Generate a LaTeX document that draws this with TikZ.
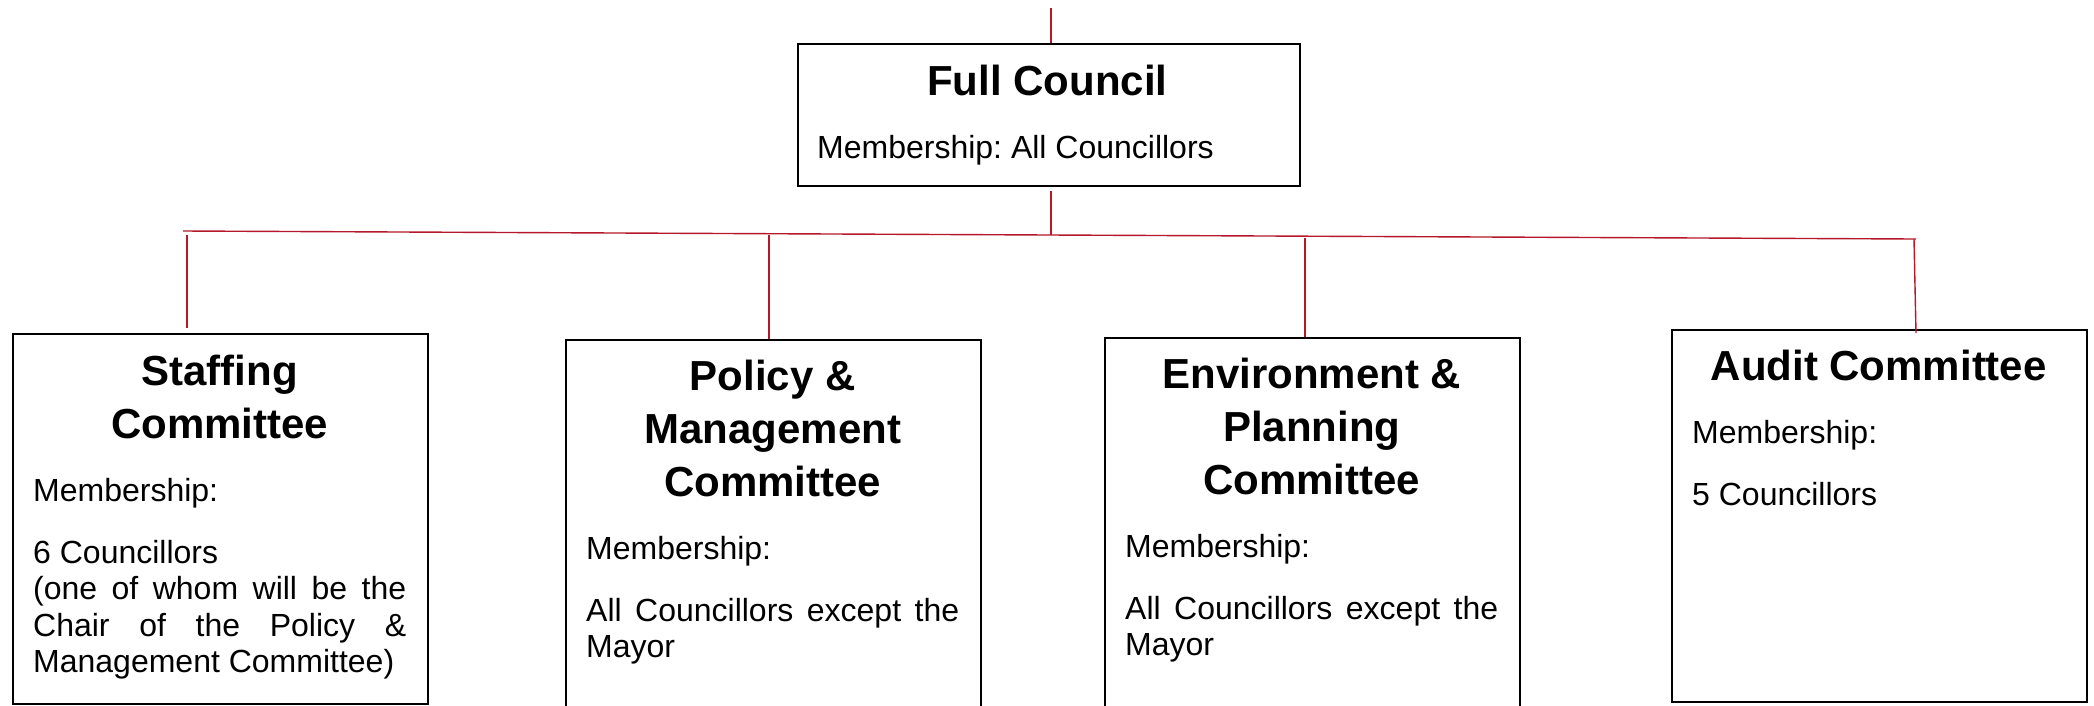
\documentclass[tikz,border=0pt]{standalone}
\usepackage{fontspec}
\setmainfont{Liberation Sans}
\definecolor{linkred}{RGB}{180,24,42}
\tikzset{
  box/.style={draw=black, line width=2pt, inner sep=0pt, anchor=north west, minimum width=415pt},
  txt/.style={anchor=base west, inner sep=0pt},
  link/.style={draw=linkred, line width=1.4pt},
}
\newcommand{\ttl}[1]{{\fontsize{42}{53}\selectfont\bfseries\centering #1\par}\vspace{27pt}}
\newcommand{\bdy}{\fontsize{32}{36.5}\selectfont}
\newcommand{\gap}{\par\vspace{25pt}}
\newenvironment{boxtext}[1]{\begin{minipage}[t]{#1}\frenchspacing\setlength{\parindent}{0pt}\setlength{\parskip}{0pt}\hyphenpenalty=10000\exhyphenpenalty=10000}{\end{minipage}}
\begin{document}
\begin{tikzpicture}[x=1pt,y=-1pt]
\useasboundingbox (0,0) rectangle (2094,705);
\clip (0,0) rectangle (2094,705);

% boxes
\node[box, minimum width=502pt, minimum height=142pt] (fc) at (797,43) {};
\node[box, minimum height=370pt] (staff) at (12,333) {};
\node[box, minimum height=381pt] (pol) at (565,339) {};
\node[box, minimum height=383pt] (env) at (1104,337) {};
\node[box, minimum height=372pt] (aud) at (1671,329) {};

% texts
\node[txt] (fct) at ([xshift=20pt,yshift=-52pt]fc.north west) {\begin{boxtext}{460pt}\ttl{Full Council}\bdy Membership: All Councillors\end{boxtext}};

\node[txt] (stafft) at ([xshift=21pt,yshift=-52pt]staff.north west) {\begin{boxtext}{373pt}\ttl{Staffing\\Committee}\bdy Membership:\gap
6 Councillors\\
(one of whom will be the\linebreak Chair of the Policy \&\linebreak Management Committee)\end{boxtext}};

\node[txt] (polt) at ([xshift=21pt,yshift=-51pt]pol.north west) {\begin{boxtext}{373pt}\ttl{Policy \&\\Management\\Committee}\bdy Membership:\gap
All Councillors except the\linebreak Mayor\end{boxtext}};

\node[txt] (envt) at ([xshift=21pt,yshift=-51pt]env.north west) {\begin{boxtext}{373pt}\ttl{Environment \&\\Planning\\Committee}\bdy Membership:\gap
All Councillors except the\linebreak Mayor\end{boxtext}};

\node[txt] (audt) at ([xshift=21pt,yshift=-51pt]aud.north west) {\begin{boxtext}{373pt}\ttl{Audit Committee}\bdy Membership:\gap
5 Councillors\end{boxtext}};

% connectors
\coordinate (topend) at (1051,8);
\coordinate (fcdrop) at (1051,191);
\coordinate (fcj) at (1051,235);
\coordinate (hl) at (183,231);
\coordinate (hr) at (1916,239);
\coordinate (s1) at (187,235);
\coordinate (s1e) at (187,328);
\coordinate (p1) at (769,235);
\coordinate (e1) at (1305,238);
\coordinate (a1) at (1914,239);
\coordinate (a1e) at (1916,333);

\draw[link] (topend) -- (topend |- fc.north);
\draw[link] (fcdrop) -- (fcj);
\draw[link] (hl) -- (hr);
\draw[link] (s1) -- (s1e);
\draw[link] (p1) -- (p1 |- pol.north);
\draw[link] (e1) -- (e1 |- env.north);
\draw[link] (a1) -- (a1e);
\end{tikzpicture}
\end{document}
